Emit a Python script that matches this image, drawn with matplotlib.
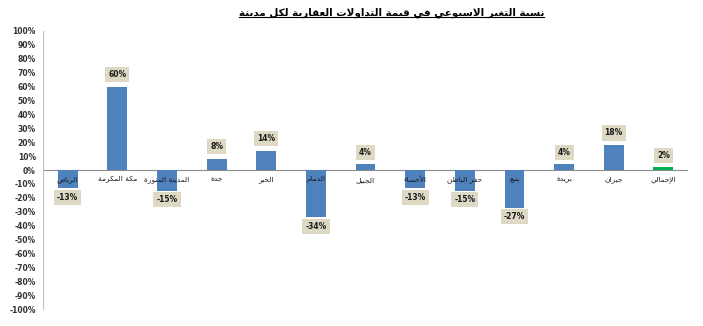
import matplotlib
matplotlib.use("Agg")
import matplotlib.pyplot as plt
from matplotlib.lines import Line2D

# cities (right-to-left as in the source sheet) and weekly change in %
cities = ["الرياض", "مكة المكرمة", "المدينة المنورة", "جدة", "الخبر", "الدمام", "الجبيل",
          "الأحساء", "حفر الباطن", "ينبع", "بريدة", "جيزان", "الإجمالي"]
change = [-13, 60, -15, 8, 14, -34, 4, -13, -15, -27, 4, 18, 2]
title = "نسبة التغير الاسبوعي في قيمة التداولات العقارية لكل مدينة"
yticks = list(range(-100, 101, 10))


# matplotlib has no arabic shaping, so map letters to presentation forms by hand
_letters = "ءآأؤإئابةتثجحخدذرزسشصضطظعغفقكلمنهوىي"
_nforms = [1, 2, 2, 2, 2, 4, 2, 4, 2, 4, 4, 4, 4, 4, 2, 2, 2, 2, 4, 4, 4, 4, 4, 4, 4, 4,
           4, 4, 4, 4, 4, 4, 4, 2, 2, 4]
_forms = {}
_code = 0xFE80
for ch, n in zip(_letters, _nforms):
    _forms[ch] = [_code + i for i in range(n)]
    _code += n
_lamalef = {"ا": 0xFEFB, "أ": 0xFEF7, "إ": 0xFEF9, "آ": 0xFEF5}


def _dual(ch):
    return ch in _forms and len(_forms[ch]) == 4


def shape(text):
    out = []
    i = 0
    while i < len(text):
        ch = text[i]
        prev = out[-1][1] if out else None
        joins_prev = prev is not None and _dual(prev)
        if ch == "ل" and i + 1 < len(text) and text[i + 1] in _lamalef:
            base = _lamalef[text[i + 1]]
            out.append((chr(base + (1 if joins_prev else 0)), "ا"))
            i += 2
            continue
        if ch not in _forms:
            out.append((ch, None))
            i += 1
            continue
        f = _forms[ch]
        nxt = text[i + 1] if i + 1 < len(text) else None
        joins_next = _dual(ch) and nxt in _forms
        if len(f) == 1:
            g = f[0]
        elif joins_prev and joins_next:
            g = f[3]
        elif joins_next:
            g = f[2]
        elif joins_prev:
            g = f[1]
        else:
            g = f[0]
        out.append((chr(g), ch))
        i += 1
    return "".join(c for c, _ in out)[::-1]


plt.rcParams["font.family"] = ["DejaVu Sans"]

fig = plt.figure(figsize=(7.03, 3.26), dpi=100)
ax = fig.add_axes([0.061, 0.052, 0.918, 0.853])

colors = ["#4f81bd"] * (len(cities) - 1) + ["#00b050"]
x = list(range(len(cities)))
ax.bar(x, change, width=0.4, color=colors, zorder=2)
ax.axhline(0, color="#8c8c8c", lw=0.8, zorder=1)

for xi, v, name in zip(x, change, cities):
    off = 12 if v > 0 else -9
    ax.annotate(f"{v}%", (xi, v), xytext=(0, off), textcoords="offset pixels",
                ha="center", va="center", fontsize=5.5, fontweight="bold", color="#1a1a1a",
                bbox=dict(boxstyle="square,pad=0.4", fc="#ddd9c4", ec="none"), zorder=3)
    ax.text(xi, -7, shape(name), ha="center", va="center", fontsize=5.3, color="#1a1a1a", zorder=4)

ax.set_xlim(-0.5, len(cities) - 0.5)
ax.set_ylim(-100, 100)
ax.set_yticks(yticks)
ax.set_yticklabels([f"{t}%" for t in yticks], fontsize=5.5, fontweight="bold", color="#333333")
ax.set_xticks([])
ax.tick_params(axis="y", length=0, pad=5)
for s in ["top", "right", "bottom"]:
    ax.spines[s].set_visible(False)
ax.spines["left"].set_color("#bfbfbf")

t = fig.text(0.557, 0.962, shape(title), ha="center", va="center", fontsize=7.5, fontweight="bold")
fig.canvas.draw()
bb = t.get_window_extent().transformed(fig.transFigure.inverted())
fig.add_artist(Line2D([bb.x0, bb.x1], [bb.y0 + 0.003, bb.y0 + 0.003], color="black", lw=0.8))

fig.savefig("out.png", dpi=100, facecolor="white")
